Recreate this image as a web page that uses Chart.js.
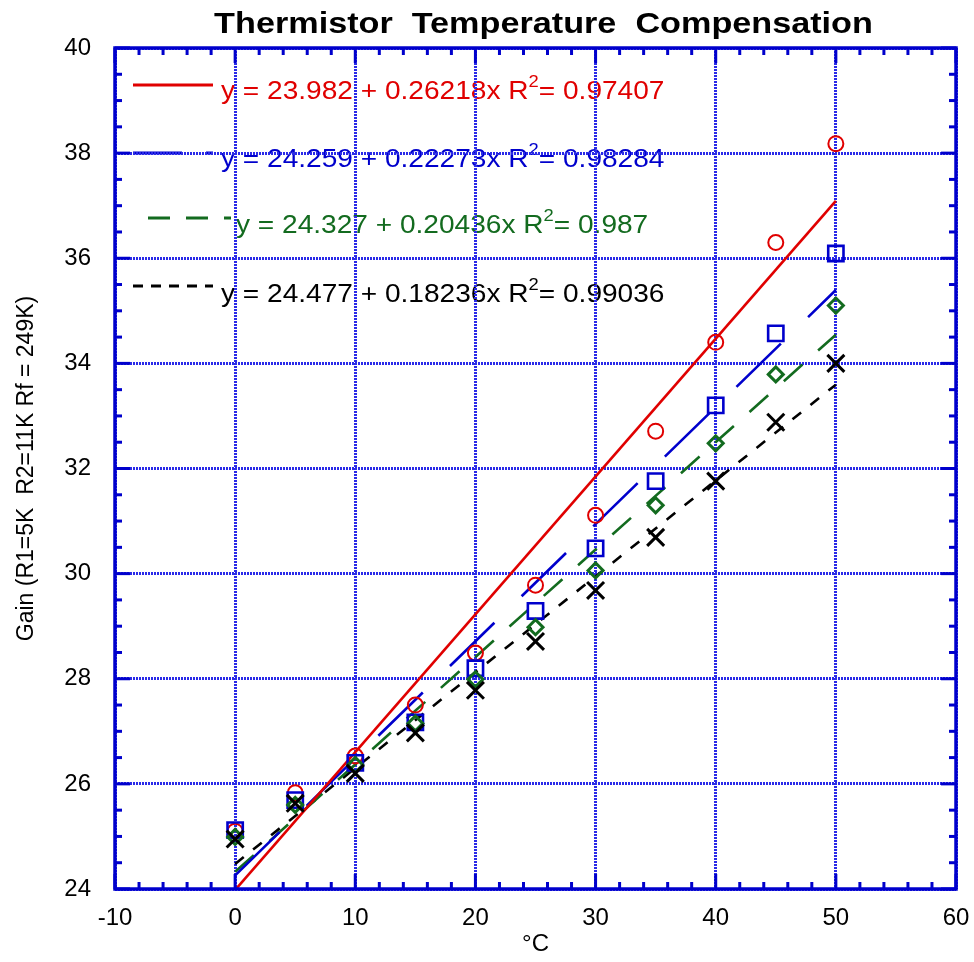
<!DOCTYPE html>
<html><head><meta charset="utf-8">
<script src="https://cdn.jsdelivr.net/npm/chart.js@4.4.1/dist/chart.umd.min.js"></script>
<style>html,body{margin:0;padding:0;background:#fff}#wrap{width:974px;height:962px}</style>
</head><body><div id="wrap"><canvas id="c" width="974" height="962"></canvas></div>
<script>
// ---- data ----
const temperatureC = [0, 5, 10, 15, 20, 25, 30, 35, 40, 45, 50];
const gainRed   = [25.10, 25.83, 26.53, 27.50, 28.49, 29.78, 31.11, 32.71, 34.40, 36.30, 38.18];
const gainBlue  = [25.12, 25.69, 26.40, 27.17, 28.20, 29.29, 30.48, 31.76, 33.20, 34.57, 36.09];
const gainGreen = [24.99, 25.60, 26.36, 27.15, 27.99, 28.98, 30.06, 31.30, 32.48, 33.79, 35.10];
const gainBlack = [24.95, 25.63, 26.20, 26.97, 27.78, 28.71, 29.68, 30.69, 31.76, 32.88, 34.00];
const fitX      = [0, 50];
const fitRed    = [23.982, 37.091];
const fitBlue   = [24.259, 35.396];
const fitGreen  = [24.327, 34.545];
const fitBlack  = [24.477, 33.595];
const fitEquations = ['y = 23.982 + 0.26218x R', 'y = 24.259 + 0.22273x R', 'y = 24.327 + 0.20436x R', 'y = 24.477 + 0.18236x R'];
const fitR2 = ['= 0.97407', '= 0.98284', '= 0.987', '= 0.99036'];
const xRange = [-10, 60];
const yRange = [24, 40];
const chartTitle = 'Thermistor  Temperature  Compensation';
const xAxisTitle = '\u00B0C';
const yAxisTitle = 'Gain (R1=5K  R2=11K Rf = 249K)';

// ---- styles ----
const FONT = "'Liberation Sans', Arial, sans-serif";
const AXIS_BLUE = '#0000cc';
const GRID_BLUE = '#2a2ae8';
const RED = '#e00000', BLUE = '#0000cc', GREEN = '#136b1f', BLACK = '#000000';
const colors = [RED, BLUE, GREEN, BLACK];
const fitDash = [[], [62, 38], [25, 21], [11, 12]];
const legendDash = [[], [49, 24], [22, 16], [10, 8]];

const pts = ys => temperatureC.map((x, i) => ({x, y: ys[i]}));
const fitPts = ys => fitX.map((x, i) => ({x, y: ys[i]}));

const fits = [fitRed, fitBlue, fitGreen, fitBlack];
const datasets = [];
fits.forEach((f, i) => datasets.push({
  data: fitPts(f), showLine: true, pointRadius: 0, borderColor: colors[i],
  borderWidth: 2.6, borderDash: fitDash[i], fill: false, order: 10 + i
}));
datasets.push({data: pts(gainRed), pointStyle: 'circle', pointRadius: 7.5, borderColor: RED, backgroundColor: 'rgba(0,0,0,0)', pointBorderWidth: 2, order: 4});
datasets.push({data: pts(gainBlue), pointStyle: 'rect', pointRadius: 10.8, borderColor: BLUE, backgroundColor: 'rgba(0,0,0,0)', pointBorderWidth: 2.6, order: 3});
datasets.push({data: pts(gainGreen), pointStyle: 'rectRot', pointRadius: 7.5, borderColor: GREEN, backgroundColor: 'rgba(0,0,0,0)', pointBorderWidth: 3, order: 2});
datasets.push({data: pts(gainBlack), pointStyle: 'crossRot', pointRadius: 12, borderColor: BLACK, backgroundColor: 'rgba(0,0,0,0)', pointBorderWidth: 3, order: 1});

function seg(ctx, x1, y1, x2, y2) { ctx.beginPath(); ctx.moveTo(x1, y1); ctx.lineTo(x2, y2); ctx.stroke(); }

const decor = {
  id: 'decor',
  beforeDraw(chart) {
    const ctx = chart.ctx;
    ctx.save();
    ctx.fillStyle = '#fff'; ctx.fillRect(0, 0, chart.width, chart.height);
    const lineY = [85, 153, 218, 286];
    const baseY = [99, 167, 233, 302];
    const lineX0 = [133, 133, 148, 133];
    const lineX1 = [213, 213, 231, 213];
    const textX = [221, 221, 236, 221];
    const sx = 1.08;
    for (let i = 0; i < 4; i++) {
      ctx.strokeStyle = colors[i]; ctx.lineWidth = 3; ctx.setLineDash(legendDash[i]);
      seg(ctx, lineX0[i], lineY[i], lineX1[i], lineY[i]);
      ctx.setLineDash([]);
      ctx.save();
      ctx.translate(textX[i], baseY[i]); ctx.scale(sx, 1);
      ctx.fillStyle = colors[i]; ctx.textBaseline = 'alphabetic'; ctx.textAlign = 'left';
      ctx.font = '26px ' + FONT;
      const t = fitEquations[i];
      ctx.fillText(t, 0, 0);
      let x = ctx.measureText(t).width;
      ctx.font = '17px ' + FONT;
      ctx.fillText('2', x, -12);
      x += ctx.measureText('2').width;
      ctx.font = '26px ' + FONT;
      ctx.fillText(fitR2[i], x, 0);
      ctx.restore();
    }
    ctx.restore();
  },
  afterDraw(chart) {
    const ctx = chart.ctx, a = chart.chartArea, xs = chart.scales.x, ys = chart.scales.y;
    ctx.save();
    ctx.strokeStyle = AXIS_BLUE; ctx.lineWidth = 3; ctx.setLineDash([]);
    for (let v = xRange[0]; v <= xRange[1]; v += 2) {
      const p = xs.getPixelForValue(v), len = (v % 10 === 0) ? 15 : 7;
      seg(ctx, p, a.bottom, p, a.bottom - len);
      seg(ctx, p, a.top, p, a.top + len);
    }
    for (let k = 0; k <= (yRange[1] - yRange[0]) * 2; k++) {
      const v = yRange[0] + k / 2, p = ys.getPixelForValue(v), len = (k % 4 === 0) ? 15 : 7;
      seg(ctx, a.left, p, a.left + len, p);
      seg(ctx, a.right, p, a.right - len, p);
    }
    ctx.lineWidth = 3.5;
    ctx.strokeRect(a.left, a.top, a.right - a.left, a.bottom - a.top);
    // title
    ctx.fillStyle = '#000'; ctx.font = 'bold 30px ' + FONT;
    ctx.textAlign = 'center'; ctx.textBaseline = 'alphabetic';
    const cx = (a.left + a.right) / 2 + 8;
    ctx.translate(cx, 33); ctx.scale(1.14, 1);
    ctx.fillText(chartTitle, 0, 0);
    ctx.restore();
  }
};

new Chart(document.getElementById('c'), {
  type: 'scatter',
  data: {datasets},
  plugins: [decor],
  options: {
    responsive: false, animation: false, devicePixelRatio: 1,
    layout: {padding: {top: 48, right: 18, left: 0, bottom: 0}},
    plugins: {legend: {display: false}, tooltip: {enabled: false}, title: {display: false}},
    scales: {
      x: {
        type: 'linear', min: xRange[0], max: xRange[1],
        ticks: {stepSize: 10, color: '#000', font: {family: FONT, size: 24}, padding: 15, maxRotation: 0},
        grid: {color: GRID_BLUE, lineWidth: 3, drawTicks: false},
        border: {display: false, dash: [2, 1]},
        title: {display: true, text: xAxisTitle, color: '#000', font: {family: FONT, size: 24}, padding: {top: 0, bottom: 3}},
        afterFit: s => { s.height = 73; s.paddingRight = 0; s.paddingLeft = 0; }
      },
      y: {
        type: 'linear', min: yRange[0], max: yRange[1],
        ticks: {stepSize: 2, color: '#000', font: {family: FONT, size: 24}, padding: 24},
        grid: {color: GRID_BLUE, lineWidth: 3, drawTicks: false},
        border: {display: false, dash: [2, 1]},
        title: {display: true, text: yAxisTitle, color: '#000', font: {family: FONT, size: 23}, padding: {top: 13, bottom: 0}},
        afterFit: s => { s.width = 115; }
      }
    }
  }
});
</script></body></html>
